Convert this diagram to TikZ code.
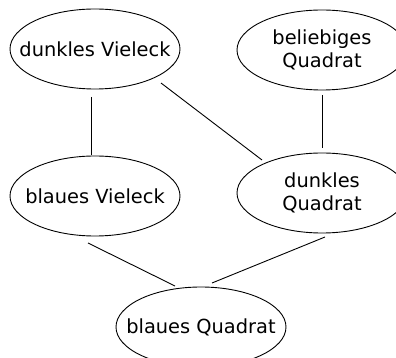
\documentclass[tikz,border=0pt]{standalone}
\usepackage{fontspec}
\setmainfont{DejaVu Sans}
\begin{document}
\begin{tikzpicture}[x=1pt,y=1pt,
  concept/.style={inner sep=0pt, align=center,
    font=\fontsize{19.4}{23}\selectfont},
  oval/.style={draw, line width=0.9pt, x radius=85pt, y radius=40pt},
  link/.style={line width=0.9pt}]
\useasboundingbox (0,0) rectangle (396,-358);
\node[concept] (A) at (95,-49) {dunkles Vieleck};
\node[concept] (B) at (322,-50) {beliebiges\\Quadrat};
\node[concept] (C) at (95,-196) {blaues Vieleck};
\node[concept] (D) at (322,-193) {dunkles\\Quadrat};
\node[concept] (E) at (201,-327) {blaues Quadrat};
\foreach \n in {A,B,C,D,E} \draw[oval] (\n.center) ellipse [];
\draw[link] ([shift={(-4,-48)}]A.center) -- ([shift={(-4,41)}]C.center);
\draw[link] ([shift={(0,-45)}]B.center) -- ([shift={(0,45)}]D.center);
\draw[link] ([shift={(66,-34)}]A.center) -- ([shift={(-60,33)}]D.center);
\draw[link] ([shift={(-7,-47)}]C.center) -- ([shift={(-26,41)}]E.center);
\draw[link] ([shift={(3,-44)}]D.center) -- ([shift={(11,44)}]E.center);
\end{tikzpicture}
\end{document}
